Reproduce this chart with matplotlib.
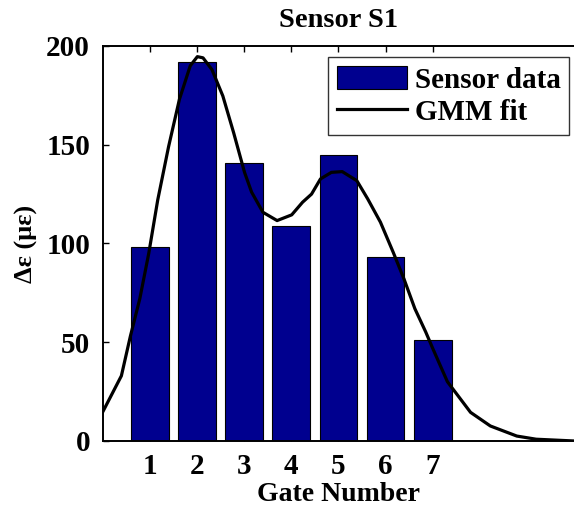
import matplotlib
matplotlib.use("Agg")
import matplotlib.pyplot as plt

# Measured strain change per gate
gates = [1, 2, 3, 4, 5, 6, 7]
strain = [98, 192, 141, 109, 145, 93, 51]

# Gaussian mixture fit, sampled along the gate axis
fit_x = [0.0, 0.40, 0.59, 0.79, 0.98, 1.17, 1.40, 1.63, 1.86, 2.01, 2.13, 2.32,
         2.55, 2.78, 3.01, 3.16, 3.40, 3.70, 4.01, 4.24, 4.43, 4.62, 4.85, 5.08,
         5.39, 5.62, 5.89, 6.16, 6.39, 6.62, 6.85, 7.00, 7.31, 7.80, 8.22, 8.78,
         9.19, 10.0]
fit_y = [14.5, 33, 53, 72, 95, 122, 149, 173, 190, 194.6, 194, 188,
         174.7, 156, 136, 126, 115.8, 111.6, 114.5, 120.9, 125, 132.7, 136, 136.4,
         131.8, 122.6, 110.8, 95.6, 82, 67, 55.2, 46.8, 30, 14.5, 7.6, 2.5,
         0.9, 0.0]

plt.rcParams["font.family"] = ["Liberation Serif", "DejaVu Serif"]
plt.rcParams["font.weight"] = "bold"
FS = 21

fig = plt.figure(figsize=(5.74, 5.07), dpi=100)
ax = fig.add_axes([0.1786, 0.1302, 0.822, 0.7791])

bars = ax.bar(gates, strain, width=0.8, color="#00008F", edgecolor="black",
              linewidth=0.8, zorder=2)
line, = ax.plot(fit_x, fit_y, color="black", linewidth=2.3, zorder=3)

ax.set_xlim(0, 10)
ax.set_ylim(0, 200)
ax.set_xticks(gates)
ax.set_yticks([0, 50, 100, 150, 200])
ax.tick_params(direction="in", length=4, width=1, labelsize=FS, pad=9,
               top=True, right=False)
ax.tick_params(axis="x", pad=9)
for lbl in ax.get_xticklabels() + ax.get_yticklabels():
    lbl.set_fontweight("bold")

for side in ["left", "bottom", "top"]:
    ax.spines[side].set_linewidth(1.4)
ax.spines["right"].set_visible(False)

ax.set_title("Sensor S1", fontsize=20.5, fontweight="bold", pad=14)
ax.set_xlabel("Gate Number", fontsize=20, fontweight="bold", labelpad=1)
ax.set_ylabel("\u0394\u03b5 (\u03bc\u03b5)", fontsize=19, fontweight="bold", labelpad=6)

leg = ax.legend([bars, line], ["Sensor data", "GMM fit"],
                loc="upper right", bbox_to_anchor=(0.989, 0.972),
                prop={"weight": "bold", "size": FS},
                frameon=True, fancybox=False, edgecolor="black",
                handlelength=2.4, handleheight=0.86, borderpad=0.3,
                labelspacing=0.15, handletextpad=0.25, borderaxespad=0)
leg.get_frame().set_linewidth(1.0)

fig.savefig("out.png", dpi=100)
